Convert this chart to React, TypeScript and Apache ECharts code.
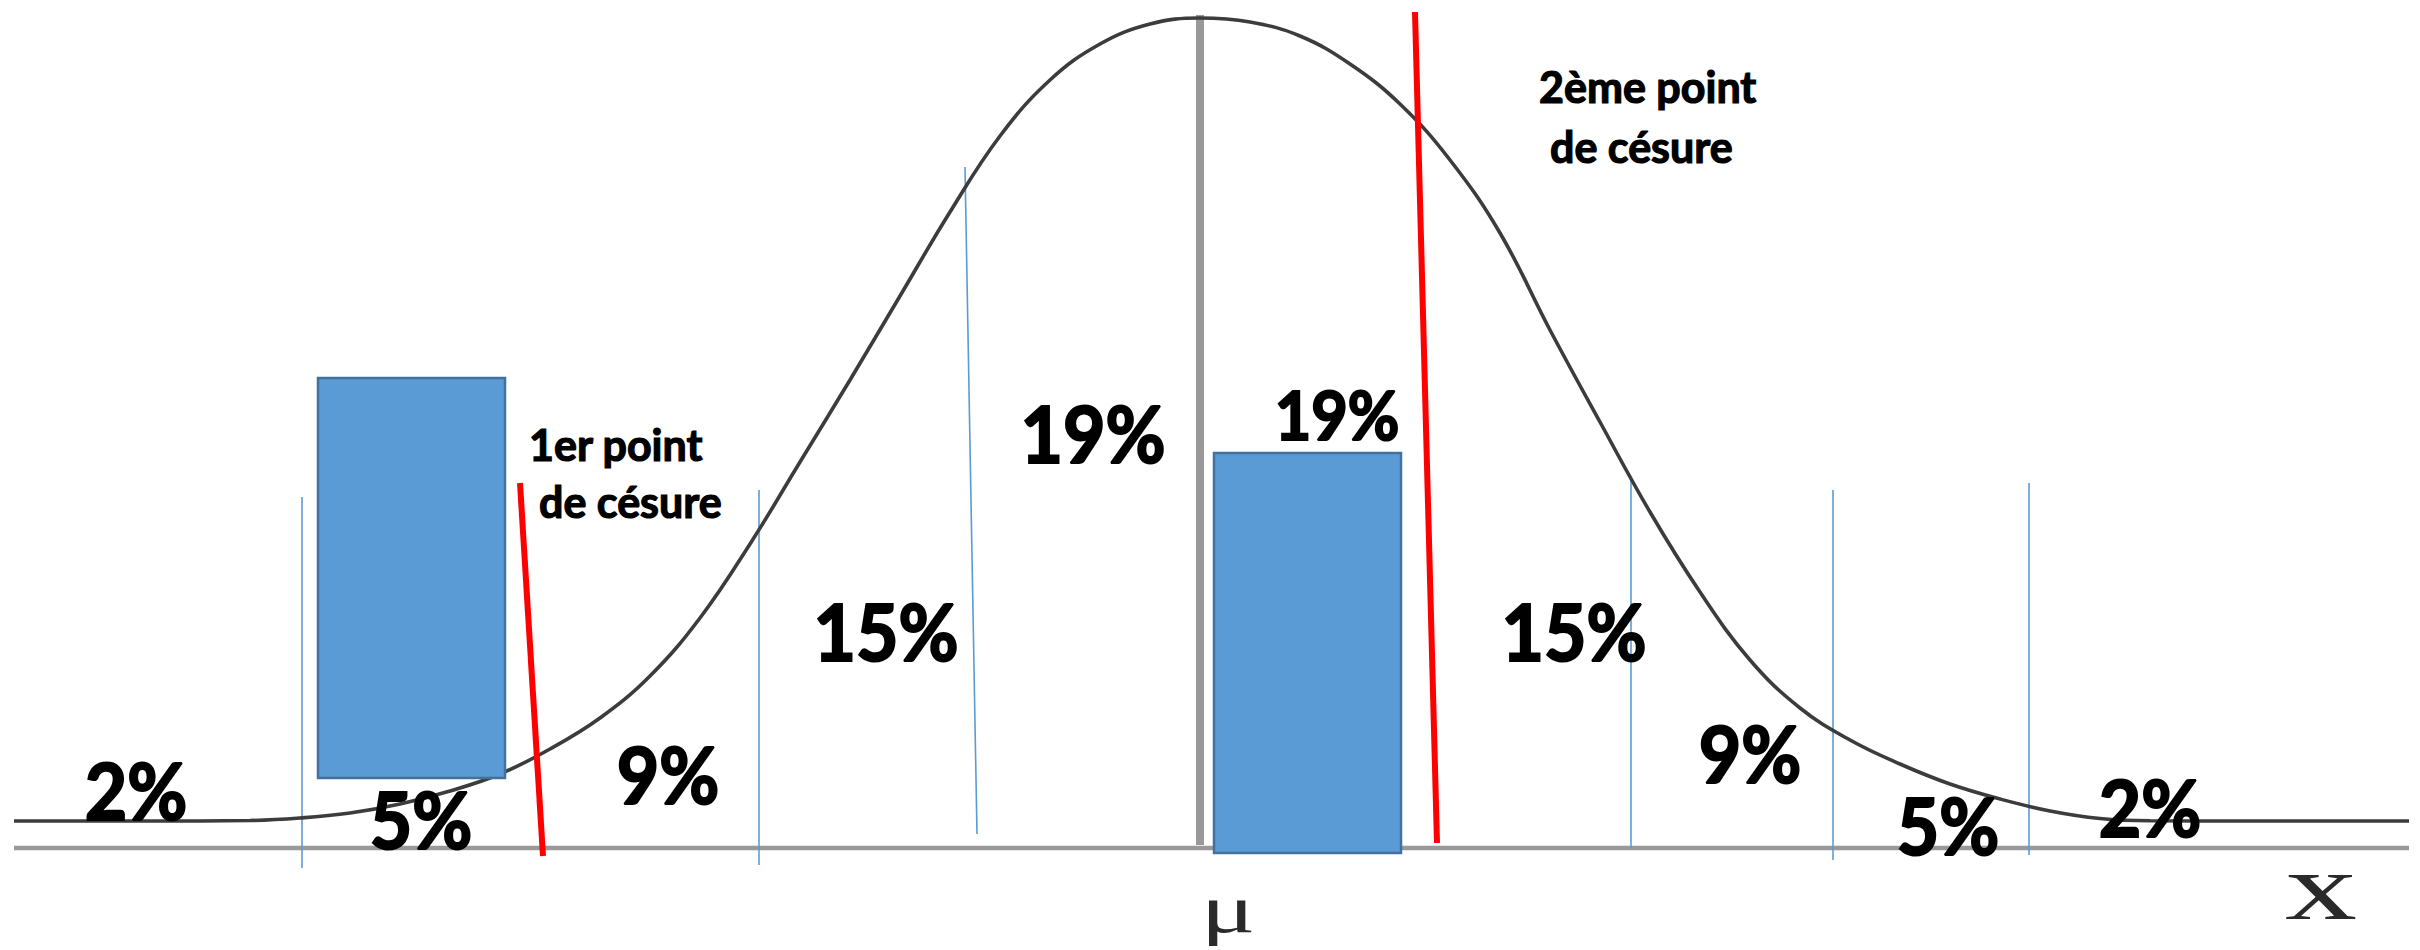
import React, { useEffect, useRef } from "react";
import * as echarts from "echarts";

// Units: x = distance from the mean μ (0), y = height above the baseline (0)

// Bell curve
const curveX = [
  -11.86, -10.5, -9.5, -9.0, -8.5, -8.0, -7.5, -7.0, -6.5, -6.0, -5.5, -5.0, -4.5, -4.0,
  -3.5, -3.0, -2.5, -2.0, -1.5, -1.0, -0.5, 0, 0.5, 1.0, 1.5, 2.0, 2.5, 3.0, 3.5, 4.0,
  4.5, 5.0, 5.5, 6.0, 6.5, 7.0, 7.5, 8.0, 8.5, 9.0, 9.5, 10.5, 12.09,
];
const curveY = [
  2.7, 2.7, 2.75, 3.0, 3.5, 4.4, 5.7, 7.4, 9.9, 13.0, 17.2, 23.0, 30.4, 38.6,
  46.8, 55.2, 63.6, 71.2, 76.8, 80.4, 82.4, 83.0, 82.6, 81.2, 78.4, 74.4, 68.8, 61.5, 51.8, 42.6,
  33.6, 25.6, 18.8, 14.0, 10.8, 8.4, 6.4, 4.9, 3.7, 2.95, 2.72, 2.7, 2.7,
];

// Axis (baseline) and the vertical at μ: [x1, y1, x2, y2]
const axisSegments = [
  [-11.86, 0, 12.09, 0],
  [0, 0.3, 0, 83.3],
];

// Thin blue band separators: [x1, y1, x2, y2]
const bandLines = [
  [-8.98, 35.1, -8.98, -2.0],
  [-4.41, 35.8, -4.41, -1.7],
  [-2.35, 68.1, -2.23, 1.4],
  [4.31, 36.7, 4.31, 0],
  [6.33, 35.8, 6.33, -1.2],
  [8.29, 36.5, 8.29, -0.7],
];

// Red cut points: [x1, y1, x2, y2]
const cutLines = [
  [-6.8, 36.5, -6.57, -0.8],
  [2.15, 83.6, 2.37, 0.5],
];

// Blue bars: [xStart, xEnd, yBottom, yTop]
const bars = [
  [-8.82, -6.95, 7.0, 47.0],
  [0.14, 2.01, -0.5, 39.5],
];

// Percentage labels
const pctLabels = ["2%", "5%", "9%", "15%", "19%", "19%", "15%", "9%", "5%", "2%"];
const pctX = [-10.64, -7.79, -5.32, -3.14, -1.07, 1.37, 3.74, 5.5, 7.48, 9.5];
const pctY = [5.8, 2.9, 7.4, 21.7, 41.5, 43.4, 21.7, 9.5, 2.3, 4.1];

// Cut point notes (left edge, vertical centre of each line)
const noteLines = ["1er point", "de césure", "2ème point", "de césure"];
const noteX = [-6.71, -6.61, 3.39, 3.5];
const noteY = [40.4, 34.7, 76.2, 70.2];

// Axis symbols
const axisSymbols = ["μ", "x"];
const axisSymbolX = [0.28, 11.21];
const axisSymbolY = [-6.1, -3.8];

const BLUE = "#5B9BD5";

function segmentRenderer(color: string, width: number) {
  return (params: any, api: any) => {
    const p1 = api.coord([api.value(0), api.value(1)]);
    const p2 = api.coord([api.value(2), api.value(3)]);
    return {
      type: "line",
      shape: { x1: p1[0], y1: p1[1], x2: p2[0], y2: p2[1] },
      style: { stroke: color, lineWidth: width, lineCap: "butt" },
    };
  };
}

export default function App() {
  const ref = useRef<HTMLDivElement>(null);

  useEffect(() => {
    if (!ref.current) return;
    const chart = echarts.init(ref.current, undefined, { renderer: "svg" });

    const option: any = {
      animation: false,
      backgroundColor: "#ffffff",
      grid: { left: 0, right: 0, top: 0, bottom: 0 },
      xAxis: { type: "value", min: -12, max: 12.2, show: false },
      yAxis: { type: "value", min: -10.2, max: 84.8, show: false },
      series: [
        {
          name: "axis",
          type: "custom",
          clip: false,
          z: 1,
          encode: { x: [0, 2], y: [1, 3] },
          data: axisSegments,
          renderItem: (params: any, api: any) => {
            const isMu = params.dataIndex === 1;
            return segmentRenderer("#999999", isMu ? 8 : 4.5)(params, api);
          },
        },
        {
          name: "bands",
          type: "custom",
          clip: false,
          z: 1,
          encode: { x: [0, 2], y: [1, 3] },
          data: bandLines,
          renderItem: segmentRenderer(BLUE, 1.6),
        },
        {
          name: "curve",
          type: "line",
          z: 2,
          smooth: 0.4,
          showSymbol: false,
          symbol: "none",
          lineStyle: { color: "#3c3c3c", width: 3.6 },
          data: curveX.map((x, i) => [x, curveY[i]]),
        },
        {
          name: "bars",
          type: "custom",
          clip: false,
          z: 3,
          encode: { x: [0, 1], y: [2, 3] },
          data: bars,
          renderItem: (params: any, api: any) => {
            const a = api.coord([api.value(0), api.value(3)]);
            const b = api.coord([api.value(1), api.value(2)]);
            return {
              type: "rect",
              shape: { x: a[0], y: a[1], width: b[0] - a[0], height: b[1] - a[1] },
              style: { fill: BLUE, stroke: "#41719C", lineWidth: 2.5 },
            };
          },
        },
        {
          name: "cuts",
          type: "custom",
          clip: false,
          z: 4,
          encode: { x: [0, 2], y: [1, 3] },
          data: cutLines,
          renderItem: segmentRenderer("#FF0000", 6),
        },
        {
          name: "pct",
          type: "custom",
          clip: false,
          z: 5,
          data: pctX.map((x, i) => [x, pctY[i]]),
          renderItem: (params: any, api: any) => {
            const p = api.coord([api.value(0), api.value(1)]);
            const small = params.dataIndex === 5;
            return {
              type: "text",
              x: p[0],
              y: p[1],
              scaleX: 0.94,
              style: {
                text: pctLabels[params.dataIndex],
                font: `bold ${small ? 67 : 78}px Lato`,
                fill: "#000000",
                stroke: "#000000",
                lineWidth: 2.2,
                textAlign: "center",
                textVerticalAlign: "middle",
              },
            };
          },
        },
        {
          name: "notes",
          type: "custom",
          clip: false,
          z: 5,
          data: noteX.map((x, i) => [x, noteY[i]]),
          renderItem: (params: any, api: any) => {
            const p = api.coord([api.value(0), api.value(1)]);
            return {
              type: "text",
              x: p[0],
              y: p[1],
              style: {
                text: noteLines[params.dataIndex],
                font: "bold 43px Lato",
                fill: "#000000",
                stroke: "#000000",
                lineWidth: 1.2,
                textAlign: "left",
                textVerticalAlign: "middle",
              },
            };
          },
        },
        {
          name: "symbols",
          type: "custom",
          clip: false,
          z: 5,
          data: axisSymbolX.map((x, i) => [x, axisSymbolY[i]]),
          renderItem: (params: any, api: any) => {
            const p = api.coord([api.value(0), api.value(1)]);
            const isX = params.dataIndex === 1;
            return {
              type: "text",
              x: p[0],
              y: p[1],
              scaleX: 1.5,
              style: {
                text: axisSymbols[params.dataIndex],
                font: isX ? "96px 'Liberation Serif'" : "68px 'Liberation Serif'",
                fill: "#2a2a2a",
                textAlign: "center",
                textVerticalAlign: "middle",
              },
            };
          },
        },
      ],
    };

    chart.setOption(option);
    return () => chart.dispose();
  }, []);

  return (
    <div
      ref={ref}
      style={{ position: "absolute", left: 0, top: 0, width: 2420, height: 950, background: "#fff" }}
    />
  );
}
